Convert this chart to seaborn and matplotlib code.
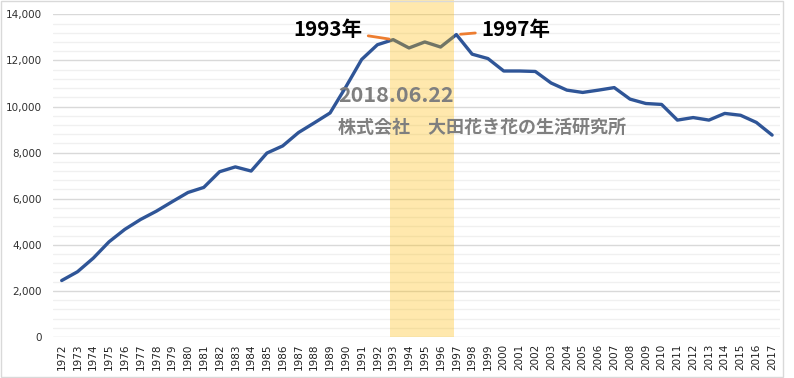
import numpy as np
import pandas as pd
import seaborn as sns
import matplotlib.pyplot as plt
from matplotlib.patches import Rectangle
from matplotlib.ticker import MultipleLocator, FuncFormatter

# Data
years = list(range(1972, 2018))
values = [2450, 2830, 3420, 4130, 4670, 5100, 5460, 5870, 6270, 6490,
          7170, 7380, 7200, 7980, 8290, 8870, 9290, 9720, 10850, 12040,
          12680, 12900, 12540, 12800, 12580, 13120, 12270, 12080, 11540, 11540,
          11520, 11020, 10710, 10610, 10710, 10820, 10320, 10130, 10090, 9410,
          9520, 9410, 9700, 9620, 9310, 8760]
highlight_years = (1993, 1997)
date_text = "2018.06.22"
credit_text = "株式会社\u3000大田花き花の生活研究所"

df = pd.DataFrame({"year": years, "value": values})

sns.set_theme(style="white")
plt.rcParams['font.family'] = ['Noto Sans CJK JP', 'DejaVu Sans']

W, H = 794, 378
fig = plt.figure(figsize=(W / 100, H / 100), dpi=100)
ax = fig.add_axes([53 / W, (H - 337) / H, (780 - 53) / W, (337 - 14.3) / H])

# grid: minor every 400, major every 2000
ax.set_ylim(0, 14000)
ax.yaxis.set_major_locator(MultipleLocator(2000))
ax.yaxis.set_minor_locator(MultipleLocator(400))
ax.grid(axis="y", which="major", color="#D9D9D9", lw=1.0, zorder=0)
ax.grid(axis="y", which="minor", color="#F0F0F0", lw=1.0, zorder=0)
ax.set_axisbelow(True)

sns.lineplot(data=df, x="year", y="value", ax=ax, color="#2F5597", lw=2.4, zorder=2)

# highlighted period band (semi-transparent, sits on top of the line)
span = ax.axvspan(highlight_years[0] - 0.2, highlight_years[1] - 0.15, ymin=0, ymax=1.045,
                  color="#FFBA00", alpha=0.32, lw=0, zorder=3)
span.set_clip_on(False)

ax.set_xlim(1971.45, 2017.5)
ax.set_xticks(years)
ax.set_xticklabels([str(y) for y in years], rotation=90, fontsize=7.5,
                   family="DejaVu Sans", color="#202020")
ax.tick_params(axis="x", length=0, pad=5)
ax.tick_params(axis="y", which="both", length=0, pad=8, labelsize=7.5, labelcolor="#303030")
ax.yaxis.set_major_formatter(FuncFormatter(lambda v, p: f"{int(v):,}"))
for lab in ax.get_yticklabels():
    lab.set_family("DejaVu Sans")
ax.set_xlabel("")
ax.set_ylabel("")
for s in ax.spines.values():
    s.set_visible(False)

# year annotations with orange leader lines
v93 = values[years.index(highlight_years[0])]
v97 = values[years.index(highlight_years[1])]
ax.annotate(f"{highlight_years[0]}年", xy=(highlight_years[0], v93), xytext=(-31, 10),
            textcoords="offset pixels", ha="right", va="center", fontsize=14.8,
            fontweight="bold", color="black", zorder=5,
            arrowprops=dict(arrowstyle="-", color="#ED7D31", lw=2, shrinkA=2, shrinkB=3))
ax.annotate(f"{highlight_years[1]}年", xy=(highlight_years[1], v97), xytext=(25, 5),
            textcoords="offset pixels", ha="left", va="center", fontsize=14.8,
            fontweight="bold", color="black", zorder=5,
            arrowprops=dict(arrowstyle="-", color="#ED7D31", lw=2, shrinkA=2, shrinkB=3))

# watermark texts
fig.text(338 / W, 1 - 95 / H, date_text, fontsize=15.5, fontweight="bold",
         color="#7F7F7F", ha="left", va="center", zorder=6)
fig.text(338 / W, 1 - 127.5 / H, credit_text, fontsize=13, fontweight="bold",
         color="#7F7F7F", ha="left", va="center", zorder=6)

# chart frame
fig.patches.append(Rectangle((0.5 / W, 1 / H), 782 / W, 376 / H, transform=fig.transFigure,
                             fill=False, edgecolor="#D9D9D9", lw=1))

fig.savefig("out.png", dpi=100)
